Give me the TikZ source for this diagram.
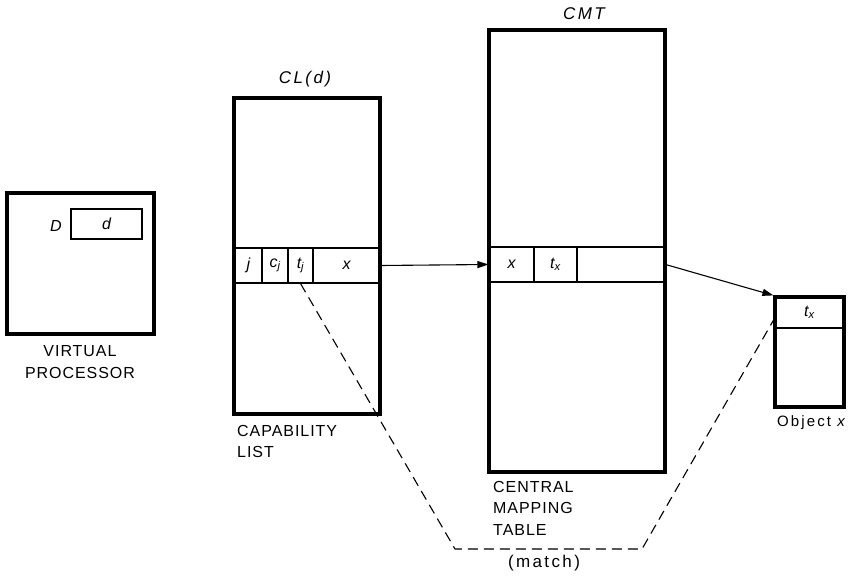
\documentclass[tikz,border=0pt]{standalone}
\usepackage{fontspec}
\setmainfont{Liberation Sans}
\newfontfamily\lettering[LetterSpace=6]{Liberation Sans}
\newfontfamily\wideletter[LetterSpace=14]{Liberation Sans}
\usetikzlibrary{arrows.meta}

\begin{document}
\begin{tikzpicture}[x=1pt,y=-1pt,
  every node/.style={font=\fontsize{16}{21.5}\lettering},
  frame/.style={draw,line width=3.2pt,inner sep=0pt},
  cell/.style={draw,line width=1.1pt,inner sep=0pt,font=\fontsize{16}{18}\itshape},
  title/.style={font=\fontsize{17}{20}\wideletter\itshape},
  caption/.style={inner sep=0pt,align=left},
  link/.style={line width=1.1pt,-{Triangle[length=11pt,width=7pt]}}]
\useasboundingbox (0,0) rectangle (848,577);
% virtual processor
\node[frame,minimum width=147pt,minimum height=141pt] (vp) at (80.5,263.5) {};
\node[cell,minimum width=71pt,minimum height=30pt] (dreg) at (106.5,224) {d};
\node[font=\fontsize{16}{18}\itshape] (dname) at (56,226) {D};
\node[caption,align=center] (vpcap) at (80,362) {VIRTUAL\\PROCESSOR};
% capability list
\node[frame,minimum width=146pt,minimum height=316pt] (cl) at (307,256) {};
\node[title] (clname) at (305,79) {CL(d)};
\node[cell,minimum width=27pt,minimum height=35pt] (cl-j) at (248.5,265.5) {j};
\node[cell,minimum width=26pt,minimum height=35pt] (cl-c) at (275,265.5) {c\textsubscript{j}};
\node[cell,minimum width=25pt,minimum height=35pt] (cl-t) at (300.5,265.5) {t\textsubscript{j}};
\node[cell,minimum width=67pt,minimum height=35pt] (cl-x) at (346.5,265.5) {x};
\node[caption,anchor=north west] (clcap) at (237,425) {CAPABILITY\\LIST};
% central mapping table
\node[frame,minimum width=176pt,minimum height=442pt] (cmt) at (577,251) {};
\node[title] (cmtname) at (584,14) {CMT};
\node[cell,minimum width=45pt,minimum height=35pt] (cmt-x) at (511.5,264.5) {x};
\node[cell,minimum width=43pt,minimum height=35pt] (cmt-t) at (555.5,264.5) {t\textsubscript{x}};
\node[cell,minimum width=88pt,minimum height=35pt] (cmt-e) at (621,264.5) {};
\node[caption,anchor=north west] (cmtcap) at (493,481) {CENTRAL\\MAPPING\\TABLE};
% object
\node[frame,minimum width=69pt,minimum height=110pt] (obj) at (809.5,352) {};
\node[cell,minimum width=69pt,minimum height=31pt] (obj-t) at (809.5,312.5) {t\textsubscript{x}};
\node[font=\fontsize{15}{18}\wideletter] (objcap) at (811,423) {Object \itshape x};
% links
\draw[link] (cl-x.east) -- (cmt-x.west);
\draw[link] (cmt-e.east) -- (obj.north west);
\coordinate (m1) at (455,549);
\coordinate (m2) at (642,549);
\draw[line width=1.1pt,dash pattern=on 10pt off 6pt] (cl-t.south) -- (m1) -- (m2) -- ([yshift=-6pt]obj-t.west);
\node[font=\fontsize{17}{20}\wideletter] (match) at (544,563) {(match)};
\end{tikzpicture}
\end{document}
